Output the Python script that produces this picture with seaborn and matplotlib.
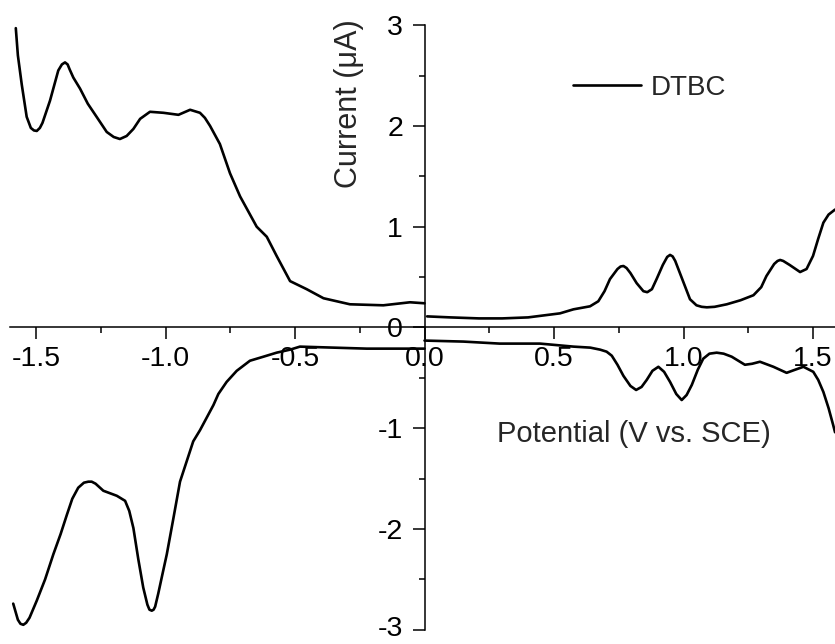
import seaborn as sns
import matplotlib.pyplot as plt
from matplotlib.ticker import MultipleLocator
from matplotlib.transforms import ScaledTranslation
import pandas as pd

# DTBC voltammogram (potential in V vs. SCE, current in uA)
upper_left_x = [-1.578, -1.57, -1.555, -1.536, -1.52, -1.508, -1.497, -1.485, -1.475, -1.446,
                -1.414, -1.40, -1.388, -1.378, -1.37, -1.356, -1.33, -1.30, -1.266, -1.227,
                -1.2, -1.176, -1.15, -1.124, -1.098, -1.06, -1.008, -0.95, -0.905, -0.867,
                -0.848, -0.828, -0.79, -0.751, -0.712, -0.648, -0.609, -0.571, -0.519, -0.455,
                -0.39, -0.288, -0.159, -0.056, 0.0]
upper_left_y = [2.97, 2.70, 2.41, 2.09, 1.98, 1.955, 1.95, 1.98, 2.03, 2.25,
                2.55, 2.61, 2.63, 2.61, 2.56, 2.48, 2.37, 2.22, 2.09, 1.94,
                1.89, 1.87, 1.90, 1.97, 2.07, 2.14, 2.13, 2.11, 2.16, 2.13,
                2.08, 2.00, 1.82, 1.53, 1.30, 1.00, 0.90, 0.71, 0.46, 0.38,
                0.29, 0.23, 0.22, 0.25, 0.24]

upper_right_x = [0.01, 0.1, 0.21, 0.3, 0.4, 0.446, 0.523, 0.575, 0.639, 0.671,
                 0.695, 0.716, 0.745, 0.757, 0.768, 0.78, 0.795, 0.819, 0.845, 0.860,
                 0.878, 0.896, 0.92, 0.937, 0.948, 0.958, 0.968, 0.986, 1.025, 1.05,
                 1.07, 1.09, 1.12, 1.167, 1.22, 1.27, 1.30, 1.32, 1.35, 1.363,
                 1.373, 1.385, 1.41, 1.45, 1.475, 1.50, 1.52, 1.54, 1.56, 1.585]
upper_right_y = [0.11, 0.10, 0.09, 0.09, 0.10, 0.115, 0.14, 0.18, 0.21, 0.26,
                 0.36, 0.48, 0.58, 0.605, 0.61, 0.59, 0.54, 0.44, 0.36, 0.35,
                 0.38, 0.48, 0.62, 0.70, 0.72, 0.705, 0.66, 0.54, 0.28, 0.22,
                 0.205, 0.20, 0.205, 0.23, 0.27, 0.32, 0.40, 0.51, 0.63, 0.66,
                 0.67, 0.66, 0.62, 0.55, 0.58, 0.71, 0.88, 1.04, 1.12, 1.17]

lower_left_x = [-1.588, -1.57, -1.56, -1.549, -1.538, -1.525, -1.497, -1.465, -1.433, -1.405,
                -1.381, -1.36, -1.337, -1.315, -1.298, -1.285, -1.27, -1.24, -1.188, -1.156,
                -1.14, -1.124, -1.105, -1.086, -1.07, -1.062, -1.053, -1.046, -1.04, -1.028,
                -1.012, -0.995, -0.97, -0.944, -0.893, -0.867, -0.815, -0.796, -0.764, -0.725,
                -0.674, -0.622, -0.571, -0.519, -0.481, -0.352, -0.223, -0.1, 0.0]
lower_left_y = [-2.74, -2.90, -2.94, -2.95, -2.93, -2.88, -2.71, -2.50, -2.25, -2.05,
                -1.86, -1.70, -1.59, -1.54, -1.53, -1.53, -1.55, -1.62, -1.67, -1.72,
                -1.82, -1.99, -2.30, -2.58, -2.75, -2.80, -2.81, -2.80, -2.77, -2.64,
                -2.45, -2.25, -1.90, -1.53, -1.13, -1.02, -0.77, -0.66, -0.54, -0.43,
                -0.33, -0.29, -0.25, -0.22, -0.19, -0.20, -0.21, -0.21, -0.21]

lower_right_x = [0.0, 0.15, 0.29, 0.446, 0.575, 0.64, 0.678, 0.703, 0.723, 0.745,
                 0.768, 0.795, 0.817, 0.838, 0.858, 0.88, 0.903, 0.925, 0.948, 0.972,
                 0.993, 1.012, 1.032, 1.055, 1.076, 1.1, 1.128, 1.155, 1.186, 1.237,
                 1.265, 1.295, 1.347, 1.398, 1.43, 1.463, 1.501, 1.52, 1.54, 1.56,
                 1.578, 1.585]
lower_right_y = [-0.13, -0.14, -0.16, -0.16, -0.19, -0.20, -0.22, -0.24, -0.28, -0.37,
                 -0.48, -0.58, -0.62, -0.59, -0.52, -0.43, -0.39, -0.44, -0.54, -0.66,
                 -0.72, -0.67, -0.57, -0.42, -0.31, -0.26, -0.25, -0.26, -0.29, -0.37,
                 -0.36, -0.34, -0.39, -0.45, -0.42, -0.39, -0.44, -0.52, -0.64, -0.80,
                 -0.97, -1.04]

x_ticks = [-1.5, -1.0, -0.5, 0.0, 0.5, 1.0, 1.5]
y_ticks = [-3, -2, -1, 0, 1, 2, 3]

segments = [
    (upper_left_x, upper_left_y),
    (upper_right_x, upper_right_y),
    (lower_left_x, lower_left_y),
    (lower_right_x, lower_right_y),
]

sns.set_style("ticks")
plt.rcParams['font.family'] = ['Liberation Sans', 'DejaVu Sans']

fig = plt.figure(figsize=(8.35, 6.44), dpi=100)
ax = fig.add_axes([0.0121, 0.022, 0.9926, 0.939])

for ix, (xs, ys) in enumerate(segments):
    df = pd.DataFrame({'Potential': xs, 'Current': ys})
    sns.lineplot(data=df, x='Potential', y='Current', ax=ax, sort=False,
                 color='black', linewidth=1.9,
                 label='DTBC' if ix == 0 else None, legend=False)

ax.set_xlim(-1.6, 1.6)
ax.set_ylim(-3, 3)

# axes cross at the origin
ax.spines['left'].set_position(('data', 0))
ax.spines['bottom'].set_position(('data', 0))
ax.spines['top'].set_visible(False)
ax.spines['right'].set_visible(False)
for side in ['left', 'bottom']:
    ax.spines[side].set_linewidth(1.1)
    ax.spines[side].set_color('black')

ax.set_xticks(x_ticks)
ax.set_xticklabels([f'{v:.1f}' for v in x_ticks])
ax.set_yticks(y_ticks)
ax.set_yticklabels([str(v) for v in y_ticks])
ax.xaxis.set_minor_locator(MultipleLocator(0.25))
ax.yaxis.set_minor_locator(MultipleLocator(0.5))
ax.tick_params(which='major', direction='out', length=8.5, width=1.1, color='black',
               labelsize=20.5, labelcolor='black')
ax.tick_params(which='minor', direction='out', length=4.3, width=1.1, color='black')
ax.tick_params(axis='x', which='major', pad=5)
ax.tick_params(axis='y', which='major', pad=7)

# lift the lowest y label a little so it stays inside the figure
bottom_label = ax.get_yticklabels()[0]
bottom_label.set_transform(bottom_label.get_transform()
                           + ScaledTranslation(0, 3 / 72, fig.dpi_scale_trans))

ax.set_xlabel('Potential (V vs. SCE)', fontsize=21)
ax.xaxis.set_label_coords(0.753, 0.347)
ax.set_ylabel('Current (μA)', fontsize=22)
ax.yaxis.set_label_coords(0.427, 0.870)

handles = ax.get_lines()[:1]
ax.legend(handles=handles, labels=['DTBC'], loc='center left',
          bbox_to_anchor=(0.679, 0.8965), frameon=False, fontsize=20,
          handlelength=2.45, handletextpad=0.36, borderpad=0, borderaxespad=0)

plt.savefig("out.png", dpi=100)
